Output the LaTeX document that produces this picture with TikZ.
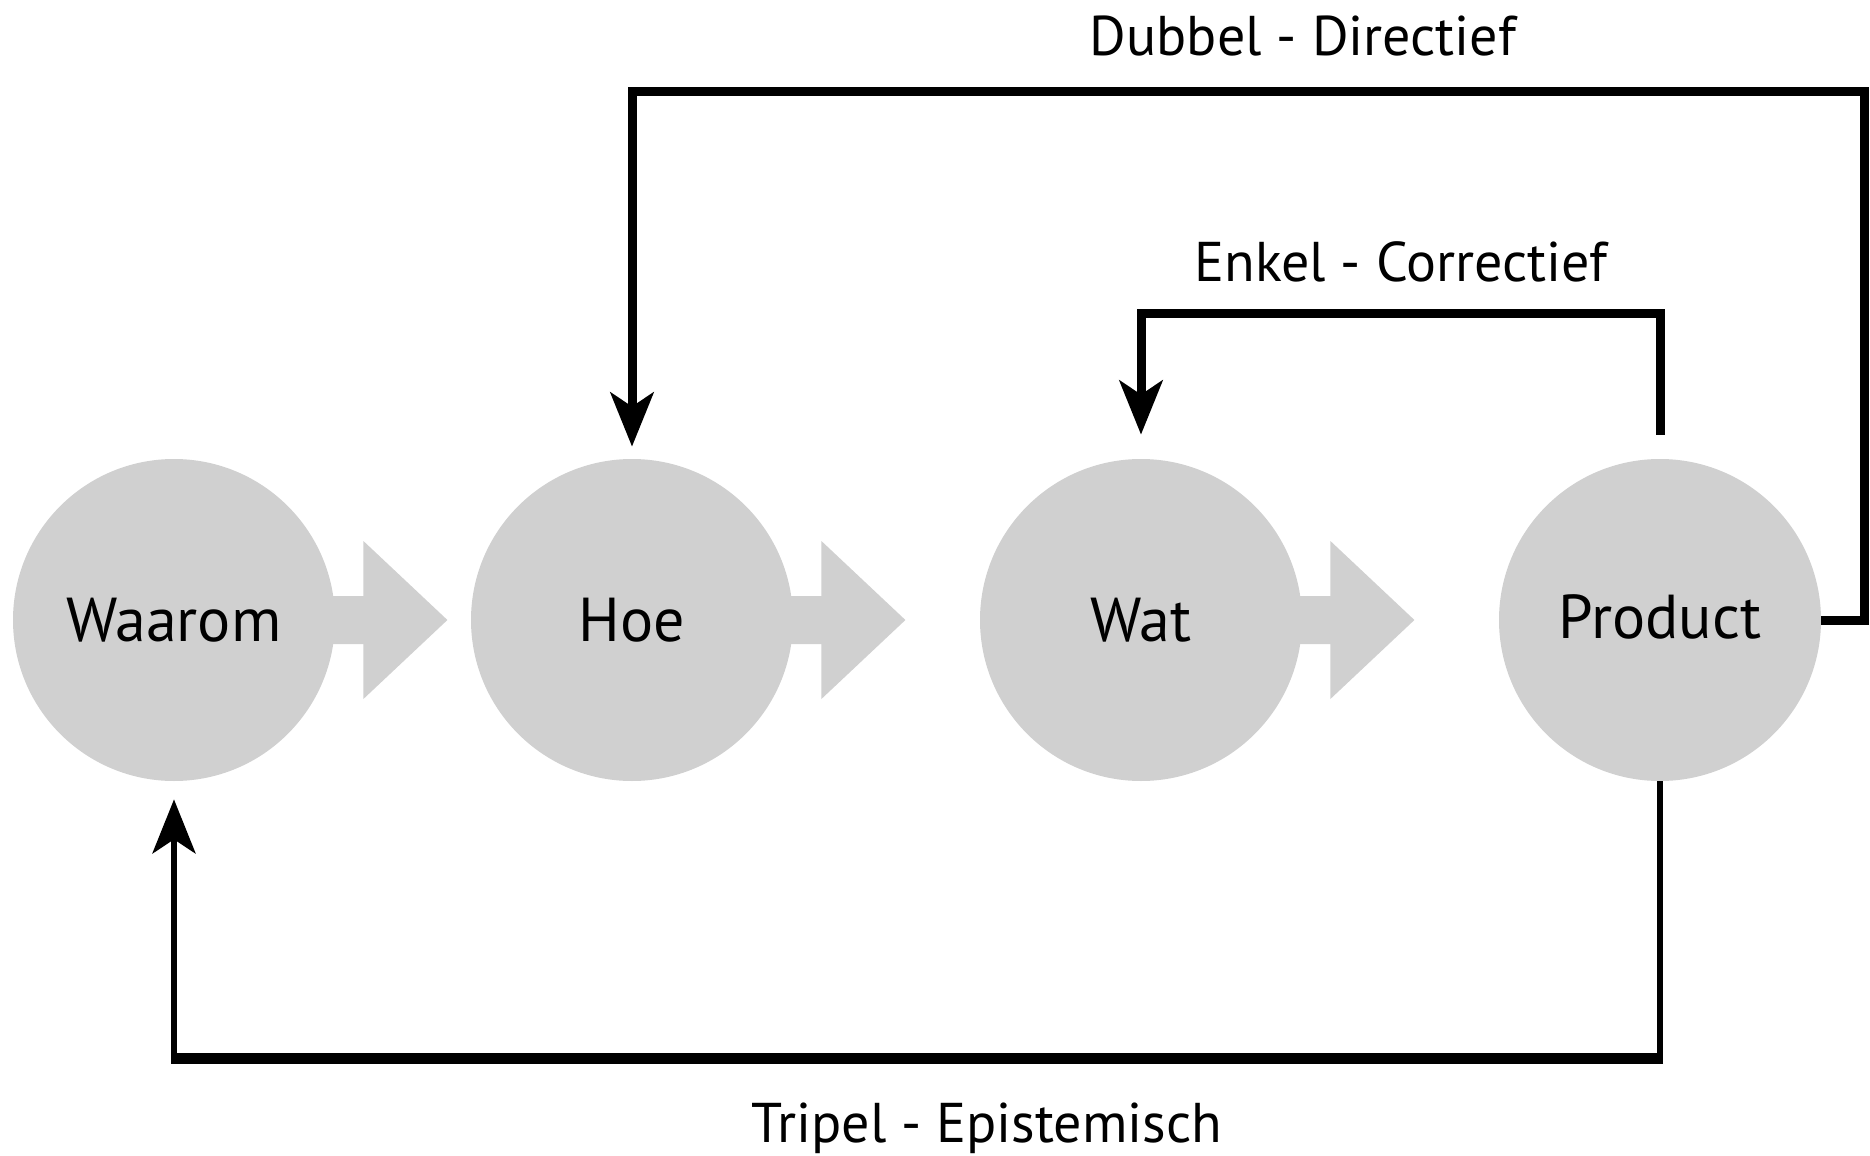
\documentclass[tikz,border=0pt]{standalone}
\usepackage{fontspec}
\setmainfont{PT Sans}
\usetikzlibrary{arrows.meta,calc}
\definecolor{circgray}{RGB}{208,208,208}
\newcommand\blockarr[1]{\fill[circgray] ($(#1.east)+(-5,-24)$) -- ($(#1.east)+(28,-24)$) -- ($(#1.east)+(28,-79)$) -- ($(#1.east)+(112,0)$) -- ($(#1.east)+(28,79)$) -- ($(#1.east)+(28,24)$) -- ($(#1.east)+(-5,24)$) -- cycle;}
\begin{document}
\begin{tikzpicture}[x=0.5pt,y=-0.5pt,
  circ/.style={circle,fill=circgray,minimum size=161pt,inner sep=0pt,font=\fontsize{31}{36}\selectfont},
  loopline/.style={line width=4.5pt,line join=miter,-{Stealth[length=27pt,width=21.5pt,inset=7pt]}},
  thinloop/.style={line width=3pt,line join=miter},
  lbl/.style={font=\fontsize{28}{32}\selectfont,anchor=base}]
\useasboundingbox (0,0) rectangle (1870,1156);
\node[circ] (waarom) at (174,620) {Waarom};
\node[circ] (hoe) at (632,620) {Hoe};
\node[circ] (wat) at (1141,620) {Wat};
\node[circ] (product) at (1660,620) {\raisebox{3pt}{Product}};
\blockarr{waarom}
\blockarr{hoe}
\blockarr{wat}
% labels
\node[lbl] (dubl) at (1303,56) {Dubbel - Directief};
\node[lbl] (enkl) at (1401,281) {Enkel - Correctief};
\node[lbl] (tril) at (987,1142) {Tripel - Epistemisch};
% coordinates
\coordinate (dR) at (1864,92);
\coordinate (hoetip) at ($(hoe.north)+(0,-12)$);
\coordinate (enkstart) at ($(product.north)+(0,-24)$);
\coordinate (wattip) at ($(wat.north)+(0,-24)$);
\coordinate (pb) at ($(product.south)+(0,277)$);
\coordinate (wb) at ($(waarom.south)+(0,277)$);
\coordinate (waaromtip) at ($(waarom.south)+(0,18)$);
% Dubbel
\draw[loopline] (product.east) -| (dR) -| (hoetip);
% Enkel
\draw[loopline] (enkstart) -- ++(0,-121) -| (wattip);
% Tripel
\draw[thinloop] (product.south) -- ($(pb)+(0,5)$);
\draw[line width=5.5pt] ($(pb)+(3,0)$) -- ($(wb)+(-3,0)$);
\draw[thinloop,-{Stealth[length=27pt,width=21.5pt,inset=7pt]}] ($(wb)+(0,5)$) -- (waaromtip);
\end{tikzpicture}
\end{document}
